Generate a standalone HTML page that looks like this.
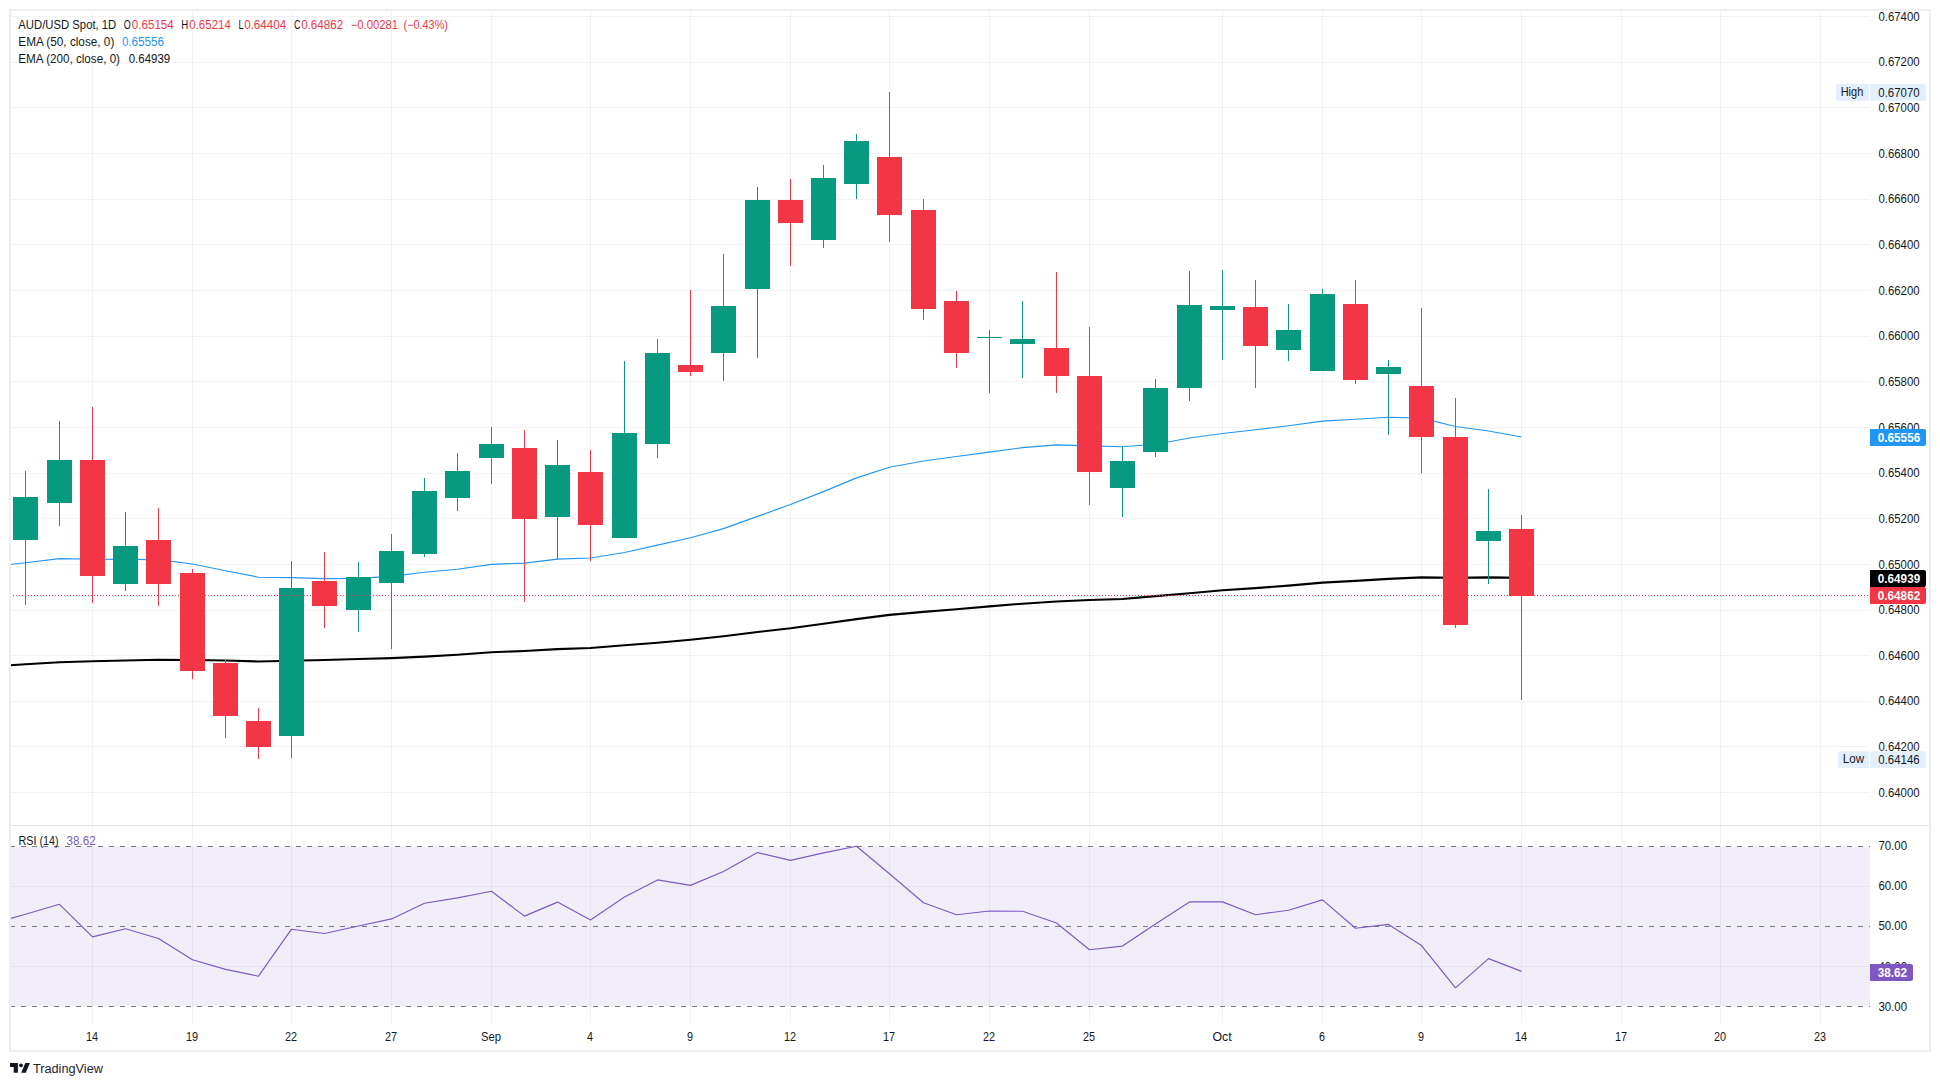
<!DOCTYPE html>
<html lang="en"><head><meta charset="utf-8"><title>AUD/USD Spot 1D</title>
<style>html,body{margin:0;padding:0;background:#fff}svg{display:block}</style></head>
<body>
<svg width="1940" height="1086" viewBox="0 0 1940 1086" font-family='"Liberation Sans", sans-serif' font-size="12" fill="#131722">
<rect width="1940" height="1086" fill="#fff"/>
<g fill="#2a2e39" fill-opacity="0.06" shape-rendering="crispEdges">
<rect x="10" y="16" width="1860" height="1"/>
<rect x="10" y="62" width="1860" height="1"/>
<rect x="10" y="107" width="1860" height="1"/>
<rect x="10" y="153" width="1860" height="1"/>
<rect x="10" y="199" width="1860" height="1"/>
<rect x="10" y="244" width="1860" height="1"/>
<rect x="10" y="290" width="1860" height="1"/>
<rect x="10" y="336" width="1860" height="1"/>
<rect x="10" y="381" width="1860" height="1"/>
<rect x="10" y="427" width="1860" height="1"/>
<rect x="10" y="473" width="1860" height="1"/>
<rect x="10" y="518" width="1860" height="1"/>
<rect x="10" y="564" width="1860" height="1"/>
<rect x="10" y="610" width="1860" height="1"/>
<rect x="10" y="655" width="1860" height="1"/>
<rect x="10" y="701" width="1860" height="1"/>
<rect x="10" y="746" width="1860" height="1"/>
<rect x="10" y="792" width="1860" height="1"/>
<rect x="10" y="886" width="1860" height="1"/>
<rect x="10" y="966" width="1860" height="1"/>
<rect x="92" y="10" width="1" height="1013"/>
<rect x="192" y="10" width="1" height="1013"/>
<rect x="291" y="10" width="1" height="1013"/>
<rect x="391" y="10" width="1" height="1013"/>
<rect x="491" y="10" width="1" height="1013"/>
<rect x="590" y="10" width="1" height="1013"/>
<rect x="690" y="10" width="1" height="1013"/>
<rect x="790" y="10" width="1" height="1013"/>
<rect x="889" y="10" width="1" height="1013"/>
<rect x="989" y="10" width="1" height="1013"/>
<rect x="1089" y="10" width="1" height="1013"/>
<rect x="1222" y="10" width="1" height="1013"/>
<rect x="1322" y="10" width="1" height="1013"/>
<rect x="1421" y="10" width="1" height="1013"/>
<rect x="1521" y="10" width="1" height="1013"/>
<rect x="1621" y="10" width="1" height="1013"/>
<rect x="1720" y="10" width="1" height="1013"/>
<rect x="1820" y="10" width="1" height="1013"/>
</g>
<rect x="10" y="846.5" width="1860" height="160" fill="#7e57c2" fill-opacity="0.1"/>
<g stroke="#787b86" stroke-width="1" stroke-dasharray="5 6" fill="none" shape-rendering="crispEdges">
<path d="M10 846.5H1870"/>
<path d="M10 926.5H1870"/>
<path d="M10 1006.5H1870"/>
</g>
<polyline fill="none" stroke="#7e57c2" stroke-width="1.15" stroke-linejoin="round" points="10.0,918.6 25.5,914.3 59.5,904.3 92.5,936.9 125.5,928.8 158.5,938.5 192.5,959.7 225.5,969.4 258.5,976.2 291.5,929.2 324.5,933.5 358.5,926.0 391.5,918.9 424.5,903.3 457.5,897.9 491.5,891.3 524.5,916.1 557.5,902.1 590.5,920.0 624.5,897.1 657.5,879.9 690.5,885.4 723.5,871.5 757.5,852.6 790.5,860.4 823.5,852.9 856.5,846.2 889.5,873.8 923.5,902.7 956.5,914.7 989.5,911.0 1022.5,911.3 1056.5,923.0 1089.5,949.7 1122.5,946.1 1155.5,923.9 1189.5,901.9 1222.5,901.9 1255.5,914.7 1288.5,910.2 1322.5,899.9 1355.5,928.3 1388.5,924.4 1421.5,945.6 1455.5,987.9 1488.5,958.6 1521.5,971.4"/>
<polyline fill="none" stroke="#2196f3" stroke-width="1.15" stroke-linejoin="round" points="10.0,564.5 25.5,562.8 59.5,558.6 92.5,559.3 125.5,559.3 158.5,559.6 192.5,564.0 225.5,570.7 258.5,577.2 291.5,577.6 324.5,578.6 358.5,578.4 391.5,576.4 424.5,572.2 457.5,569.2 491.5,564.4 524.5,563.1 557.5,559.1 590.5,558.0 624.5,552.5 657.5,545.1 690.5,537.8 723.5,528.6 757.5,516.4 790.5,504.5 823.5,491.6 856.5,477.9 889.5,467.2 923.5,461.0 956.5,456.5 989.5,452.1 1022.5,447.6 1056.5,444.9 1089.5,445.9 1122.5,446.7 1155.5,444.2 1189.5,438.0 1222.5,433.5 1255.5,429.8 1288.5,425.8 1322.5,421.1 1355.5,419.3 1388.5,417.3 1421.5,418.1 1455.5,426.5 1488.5,431.0 1521.5,437.0"/>
<polyline fill="none" stroke="#000" stroke-width="2.1" stroke-linejoin="round" points="10.0,665.2 25.5,664.3 59.5,662.3 92.5,661.3 125.5,660.5 158.5,659.8 192.5,660.0 225.5,660.5 258.5,661.5 291.5,660.8 324.5,660.0 358.5,659.0 391.5,658.1 424.5,656.6 457.5,654.8 491.5,652.3 524.5,651.0 557.5,649.1 590.5,648.0 624.5,645.3 657.5,642.7 690.5,639.8 723.5,636.3 757.5,632.0 790.5,628.3 823.5,623.8 856.5,619.1 889.5,614.9 923.5,611.9 956.5,609.2 989.5,606.4 1022.5,603.7 1056.5,601.5 1089.5,600.0 1122.5,599.0 1155.5,596.1 1189.5,593.3 1222.5,590.3 1255.5,588.1 1288.5,585.6 1322.5,582.6 1355.5,580.9 1388.5,578.9 1421.5,577.4 1455.5,577.9 1488.5,577.4 1521.5,577.9"/>
<g shape-rendering="crispEdges">
<rect x="25" y="471" width="1" height="134" fill="#089981"/>
<rect x="13" y="497" width="25" height="43" fill="#089981"/>
<rect x="59" y="421" width="1" height="105" fill="#089981"/>
<rect x="47" y="460" width="25" height="43" fill="#089981"/>
<rect x="92" y="407" width="1" height="196" fill="#f23645"/>
<rect x="80" y="460" width="25" height="116" fill="#f23645"/>
<rect x="125" y="512" width="1" height="79" fill="#089981"/>
<rect x="113" y="546" width="25" height="38" fill="#089981"/>
<rect x="158" y="508" width="1" height="98" fill="#f23645"/>
<rect x="146" y="540" width="25" height="44" fill="#f23645"/>
<rect x="192" y="569" width="1" height="110" fill="#f23645"/>
<rect x="180" y="573" width="25" height="98" fill="#f23645"/>
<rect x="225" y="660" width="1" height="78" fill="#f23645"/>
<rect x="213" y="663" width="25" height="53" fill="#f23645"/>
<rect x="258" y="708" width="1" height="51" fill="#f23645"/>
<rect x="246" y="721" width="25" height="26" fill="#f23645"/>
<rect x="291" y="561" width="1" height="197" fill="#089981"/>
<rect x="279" y="588" width="25" height="148" fill="#089981"/>
<rect x="324" y="552" width="1" height="76" fill="#f23645"/>
<rect x="312" y="581" width="25" height="25" fill="#f23645"/>
<rect x="358" y="562" width="1" height="70" fill="#089981"/>
<rect x="346" y="577" width="25" height="33" fill="#089981"/>
<rect x="391" y="534" width="1" height="115" fill="#089981"/>
<rect x="379" y="551" width="25" height="32" fill="#089981"/>
<rect x="424" y="478" width="1" height="79" fill="#089981"/>
<rect x="412" y="491" width="25" height="63" fill="#089981"/>
<rect x="457" y="453" width="1" height="58" fill="#089981"/>
<rect x="445" y="471" width="25" height="27" fill="#089981"/>
<rect x="491" y="427" width="1" height="57" fill="#089981"/>
<rect x="479" y="444" width="25" height="14" fill="#089981"/>
<rect x="524" y="430" width="1" height="172" fill="#f23645"/>
<rect x="512" y="448" width="25" height="71" fill="#f23645"/>
<rect x="557" y="440" width="1" height="119" fill="#089981"/>
<rect x="545" y="465" width="25" height="52" fill="#089981"/>
<rect x="590" y="450" width="1" height="111" fill="#f23645"/>
<rect x="578" y="472" width="25" height="53" fill="#f23645"/>
<rect x="624" y="361" width="1" height="177" fill="#089981"/>
<rect x="612" y="433" width="25" height="105" fill="#089981"/>
<rect x="657" y="339" width="1" height="119" fill="#089981"/>
<rect x="645" y="353" width="25" height="91" fill="#089981"/>
<rect x="690" y="290" width="1" height="86" fill="#f23645"/>
<rect x="678" y="365" width="25" height="7" fill="#f23645"/>
<rect x="723" y="254" width="1" height="127" fill="#089981"/>
<rect x="711" y="306" width="25" height="47" fill="#089981"/>
<rect x="757" y="187" width="1" height="171" fill="#089981"/>
<rect x="745" y="200" width="25" height="89" fill="#089981"/>
<rect x="790" y="179" width="1" height="87" fill="#f23645"/>
<rect x="778" y="200" width="25" height="23" fill="#f23645"/>
<rect x="823" y="165" width="1" height="83" fill="#089981"/>
<rect x="811" y="178" width="25" height="62" fill="#089981"/>
<rect x="856" y="134" width="1" height="65" fill="#089981"/>
<rect x="844" y="141" width="25" height="43" fill="#089981"/>
<rect x="889" y="92" width="1" height="150" fill="#f23645"/>
<rect x="877" y="157" width="25" height="58" fill="#f23645"/>
<rect x="923" y="199" width="1" height="121" fill="#f23645"/>
<rect x="911" y="210" width="25" height="99" fill="#f23645"/>
<rect x="956" y="291" width="1" height="77" fill="#f23645"/>
<rect x="944" y="301" width="25" height="52" fill="#f23645"/>
<rect x="989" y="330" width="1" height="63" fill="#089981"/>
<rect x="977" y="337" width="25" height="1" fill="#089981"/>
<rect x="1022" y="301" width="1" height="77" fill="#089981"/>
<rect x="1010" y="339" width="25" height="5" fill="#089981"/>
<rect x="1056" y="272" width="1" height="121" fill="#f23645"/>
<rect x="1044" y="348" width="25" height="28" fill="#f23645"/>
<rect x="1089" y="327" width="1" height="178" fill="#f23645"/>
<rect x="1077" y="376" width="25" height="96" fill="#f23645"/>
<rect x="1122" y="446" width="1" height="71" fill="#089981"/>
<rect x="1110" y="461" width="25" height="27" fill="#089981"/>
<rect x="1155" y="379" width="1" height="78" fill="#089981"/>
<rect x="1143" y="388" width="25" height="64" fill="#089981"/>
<rect x="1189" y="271" width="1" height="130" fill="#089981"/>
<rect x="1177" y="305" width="25" height="83" fill="#089981"/>
<rect x="1222" y="270" width="1" height="90" fill="#089981"/>
<rect x="1210" y="306" width="25" height="4" fill="#089981"/>
<rect x="1255" y="280" width="1" height="108" fill="#f23645"/>
<rect x="1243" y="307" width="25" height="39" fill="#f23645"/>
<rect x="1288" y="304" width="1" height="57" fill="#089981"/>
<rect x="1276" y="330" width="25" height="20" fill="#089981"/>
<rect x="1322" y="289" width="1" height="82" fill="#089981"/>
<rect x="1310" y="294" width="25" height="77" fill="#089981"/>
<rect x="1355" y="280" width="1" height="104" fill="#f23645"/>
<rect x="1343" y="304" width="25" height="76" fill="#f23645"/>
<rect x="1388" y="360" width="1" height="75" fill="#089981"/>
<rect x="1376" y="367" width="25" height="7" fill="#089981"/>
<rect x="1421" y="308" width="1" height="165" fill="#f23645"/>
<rect x="1409" y="386" width="25" height="51" fill="#f23645"/>
<rect x="1455" y="398" width="1" height="230" fill="#f23645"/>
<rect x="1443" y="437" width="25" height="188" fill="#f23645"/>
<rect x="1488" y="489" width="1" height="95" fill="#089981"/>
<rect x="1476" y="531" width="25" height="10" fill="#089981"/>
<rect x="1521" y="515" width="1" height="185" fill="#f23645"/>
<rect x="1509" y="529" width="25" height="67" fill="#f23645"/>
</g>
<path d="M10 595.5H1870" stroke="#f23645" stroke-width="1" stroke-dasharray="1 2" shape-rendering="crispEdges"/>
<rect x="10" y="825" width="1920" height="1" fill="#e0e3eb"/>
<rect x="10" y="10" width="1920" height="1041" fill="none" stroke="#eeeff5" stroke-width="2"/>
<text x="1878.4" y="20.7" textLength="41.2" lengthAdjust="spacingAndGlyphs">0.67400</text>
<text x="1878.4" y="66.3" textLength="41.2" lengthAdjust="spacingAndGlyphs">0.67200</text>
<text x="1878.4" y="112.0" textLength="41.2" lengthAdjust="spacingAndGlyphs">0.67000</text>
<text x="1878.4" y="157.6" textLength="41.2" lengthAdjust="spacingAndGlyphs">0.66800</text>
<text x="1878.4" y="203.3" textLength="41.2" lengthAdjust="spacingAndGlyphs">0.66600</text>
<text x="1878.4" y="248.9" textLength="41.2" lengthAdjust="spacingAndGlyphs">0.66400</text>
<text x="1878.4" y="294.6" textLength="41.2" lengthAdjust="spacingAndGlyphs">0.66200</text>
<text x="1878.4" y="340.2" textLength="41.2" lengthAdjust="spacingAndGlyphs">0.66000</text>
<text x="1878.4" y="385.9" textLength="41.2" lengthAdjust="spacingAndGlyphs">0.65800</text>
<text x="1878.4" y="431.5" textLength="41.2" lengthAdjust="spacingAndGlyphs">0.65600</text>
<text x="1878.4" y="477.2" textLength="41.2" lengthAdjust="spacingAndGlyphs">0.65400</text>
<text x="1878.4" y="522.8" textLength="41.2" lengthAdjust="spacingAndGlyphs">0.65200</text>
<text x="1878.4" y="568.5" textLength="41.2" lengthAdjust="spacingAndGlyphs">0.65000</text>
<text x="1878.4" y="614.1" textLength="41.2" lengthAdjust="spacingAndGlyphs">0.64800</text>
<text x="1878.4" y="659.8" textLength="41.2" lengthAdjust="spacingAndGlyphs">0.64600</text>
<text x="1878.4" y="705.4" textLength="41.2" lengthAdjust="spacingAndGlyphs">0.64400</text>
<text x="1878.4" y="751.1" textLength="41.2" lengthAdjust="spacingAndGlyphs">0.64200</text>
<text x="1878.4" y="796.7" textLength="41.2" lengthAdjust="spacingAndGlyphs">0.64000</text>
<text x="1878.4" y="849.8" textLength="28.6" lengthAdjust="spacingAndGlyphs">70.00</text>
<text x="1878.4" y="889.8" textLength="28.6" lengthAdjust="spacingAndGlyphs">60.00</text>
<text x="1878.4" y="930.0" textLength="28.6" lengthAdjust="spacingAndGlyphs">50.00</text>
<text x="1878.4" y="971.3" textLength="28.6" lengthAdjust="spacingAndGlyphs">40.00</text>
<text x="1878.4" y="1010.6" textLength="28.6" lengthAdjust="spacingAndGlyphs">30.00</text>
<path d="M1869 84V100.7H1838Q1836 100.7 1836 98.7V86Q1836 84 1838 84Z" fill="#e3effd"/>
<path d="M1870 84H1924Q1926 84 1926 86V98.7Q1926 100.7 1924 100.7H1870Z" fill="#e3effd"/>
<text x="1840.7" y="95.9" textLength="22.6" lengthAdjust="spacingAndGlyphs">High</text>
<text x="1878.3" y="96.5" textLength="41.3" lengthAdjust="spacingAndGlyphs">0.67070</text>
<path d="M1869 751.2V767.9H1840Q1838 767.9 1838 765.9V753.2Q1838 751.2 1840 751.2Z" fill="#e3effd"/>
<path d="M1870 751.2H1924Q1926 751.2 1926 753.2V765.9Q1926 767.9 1924 767.9H1870Z" fill="#e3effd"/>
<text x="1842.8" y="763.1" textLength="21.2" lengthAdjust="spacingAndGlyphs">Low</text>
<text x="1878.3" y="763.7" textLength="41.3" lengthAdjust="spacingAndGlyphs">0.64146</text>
<path d="M1870 429H1924Q1926 429 1926 431V444Q1926 446 1924 446H1870Z" fill="#2196f3"/>
<text x="1877.8" y="441.8" textLength="42.4" lengthAdjust="spacingAndGlyphs" fill="#fff" font-weight="bold">0.65556</text>
<path d="M1870 570H1924Q1926 570 1926 572V585Q1926 587 1924 587H1870Z" fill="#000"/>
<text x="1877.8" y="582.8" textLength="42.4" lengthAdjust="spacingAndGlyphs" fill="#fff" font-weight="bold">0.64939</text>
<path d="M1870 587H1924Q1926 587 1926 589V602Q1926 604 1924 604H1870Z" fill="#f23645"/>
<text x="1877.8" y="599.8" textLength="42.4" lengthAdjust="spacingAndGlyphs" fill="#fff" font-weight="bold">0.64862</text>
<path d="M1870 964H1911Q1913 964 1913 966V979Q1913 981 1911 981H1870Z" fill="#7e57c2"/>
<text x="1877.8" y="976.8" textLength="29.2" lengthAdjust="spacingAndGlyphs" fill="#fff" font-weight="bold">38.62</text>
<text x="86.0" y="1041.1" textLength="12.1" lengthAdjust="spacingAndGlyphs">14</text>
<text x="185.9" y="1041.1" textLength="12.1" lengthAdjust="spacingAndGlyphs">19</text>
<text x="284.9" y="1041.1" textLength="12.1" lengthAdjust="spacingAndGlyphs">22</text>
<text x="384.9" y="1041.1" textLength="12.1" lengthAdjust="spacingAndGlyphs">27</text>
<text x="481.0" y="1041.1" textLength="20.0" lengthAdjust="spacingAndGlyphs">Sep</text>
<text x="587.0" y="1041.1" textLength="6.0" lengthAdjust="spacingAndGlyphs">4</text>
<text x="687.0" y="1041.1" textLength="6.0" lengthAdjust="spacingAndGlyphs">9</text>
<text x="784.0" y="1041.1" textLength="12.1" lengthAdjust="spacingAndGlyphs">12</text>
<text x="883.0" y="1041.1" textLength="12.1" lengthAdjust="spacingAndGlyphs">17</text>
<text x="983.0" y="1041.1" textLength="12.1" lengthAdjust="spacingAndGlyphs">22</text>
<text x="1083.0" y="1041.1" textLength="12.1" lengthAdjust="spacingAndGlyphs">25</text>
<text x="1212.4" y="1041.1" textLength="19.2" lengthAdjust="spacingAndGlyphs">Oct</text>
<text x="1319.0" y="1041.1" textLength="6.0" lengthAdjust="spacingAndGlyphs">6</text>
<text x="1418.0" y="1041.1" textLength="6.0" lengthAdjust="spacingAndGlyphs">9</text>
<text x="1515.0" y="1041.1" textLength="12.1" lengthAdjust="spacingAndGlyphs">14</text>
<text x="1615.0" y="1041.1" textLength="12.1" lengthAdjust="spacingAndGlyphs">17</text>
<text x="1714.0" y="1041.1" textLength="12.1" lengthAdjust="spacingAndGlyphs">20</text>
<text x="1814.0" y="1041.1" textLength="12.1" lengthAdjust="spacingAndGlyphs">23</text>
<text x="18.3" y="29.2" textLength="98" lengthAdjust="spacingAndGlyphs">AUD/USD Spot, 1D</text>
<text x="123.7" y="29.2" textLength="7" lengthAdjust="spacingAndGlyphs">O</text>
<text x="131.8" y="29.2" textLength="42" lengthAdjust="spacingAndGlyphs" fill="#f23645">0.65154</text>
<text x="181.2" y="29.2" textLength="7" lengthAdjust="spacingAndGlyphs">H</text>
<text x="189.3" y="29.2" textLength="41.5" lengthAdjust="spacingAndGlyphs" fill="#f23645">0.65214</text>
<text x="238.5" y="29.2" textLength="5" lengthAdjust="spacingAndGlyphs">L</text>
<text x="244.2" y="29.2" textLength="42" lengthAdjust="spacingAndGlyphs" fill="#f23645">0.64404</text>
<text x="294" y="29.2" textLength="6.5" lengthAdjust="spacingAndGlyphs">C</text>
<text x="301.2" y="29.2" textLength="42" lengthAdjust="spacingAndGlyphs" fill="#f23645">0.64862</text>
<text x="350.7" y="29.2" textLength="47.2" lengthAdjust="spacingAndGlyphs" fill="#f23645">−0.00281</text>
<text x="403.6" y="29.2" textLength="44.3" lengthAdjust="spacingAndGlyphs" fill="#f23645">(−0.43%)</text>
<text x="18.3" y="45.9" textLength="96" lengthAdjust="spacingAndGlyphs">EMA (50, close, 0)</text>
<text x="121.9" y="45.9" textLength="42" lengthAdjust="spacingAndGlyphs" fill="#2196f3">0.65556</text>
<text x="18.3" y="62.8" textLength="101.7" lengthAdjust="spacingAndGlyphs">EMA (200, close, 0)</text>
<text x="128.7" y="62.8" textLength="41.5" lengthAdjust="spacingAndGlyphs">0.64939</text>
<text x="18.6" y="844.8" textLength="40.1" lengthAdjust="spacingAndGlyphs">RSI (14)</text>
<text x="66.6" y="844.8" textLength="29.1" lengthAdjust="spacingAndGlyphs" fill="#7e57c2">38.62</text>
<g fill="#131722"><path d="M10 1063.1H17.9V1072.8H13.7V1067.1H10Z"/><circle cx="21" cy="1065.35" r="1.95"/><path d="M25.3 1063.1H29.9L25.8 1072.8H21.2Z"/></g>
<text x="32.9" y="1072.6" textLength="70.1" lengthAdjust="spacingAndGlyphs" fill="#1e222d" font-size="12.5">TradingView</text>
</svg>
</body></html>
